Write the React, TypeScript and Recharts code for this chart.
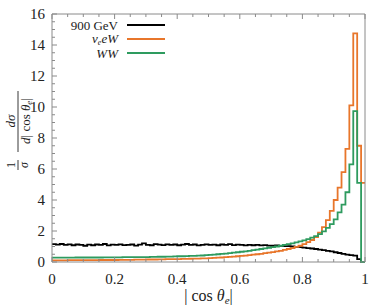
import React from "react";
import { LineChart, Line, XAxis, YAxis, Legend } from "recharts";

// histogram, 80 bins on [0, 1]
const binCount = 80;

const blackVals = [
  1.15, 1.12, 1.16, 1.1, 1.14, 1.08, 1.13, 1.1, 1.05, 1.12,
  1.08, 1.13, 1.1, 1.16, 1.07, 1.12, 1.1, 1.14, 1.09, 1.11,
  1.13, 1.06, 1.12, 1.2, 1.1, 1.08, 1.15, 1.12, 1.09, 1.14,
  1.1, 1.13, 1.08, 1.12, 1.16, 1.1, 1.13, 1.07, 1.11, 1.14,
  1.1, 1.12, 1.08, 1.13, 1.1, 1.15, 1.09, 1.12, 1.1, 1.07,
  1.1, 1.08, 1.1, 1.07, 1.09, 1.06, 1.05, 1.07, 1.04, 1.03,
  1.02, 1.0, 0.98, 0.96, 0.93, 0.9, 0.87, 0.84, 0.8, 0.76,
  0.72, 0.68, 0.63, 0.58, 0.52, 0.47, 0.44, 0.41, 0.18, 0,
];

const orangeVals = [
  0.11, 0.11, 0.11, 0.11, 0.12, 0.12, 0.12, 0.12, 0.12, 0.12,
  0.12, 0.12, 0.13, 0.13, 0.13, 0.13, 0.13, 0.14, 0.14, 0.14,
  0.14, 0.15, 0.15, 0.15, 0.16, 0.16, 0.16, 0.17, 0.17, 0.18,
  0.18, 0.19, 0.19, 0.2, 0.2, 0.21, 0.22, 0.22, 0.23, 0.24,
  0.25, 0.26, 0.28, 0.29, 0.31, 0.33, 0.35, 0.37, 0.39, 0.41,
  0.44, 0.47, 0.5, 0.53, 0.57, 0.6, 0.64, 0.68, 0.72, 0.78,
  0.84, 0.9, 0.97, 1.05, 1.15, 1.28, 1.42, 1.6, 1.9, 2.25,
  2.7, 3.3, 4.0, 4.8, 5.8, 7.3, 10.1, 14.75, 7.5, 5.1,
];

const greenVals = [
  0.28, 0.28, 0.28, 0.28, 0.28, 0.28, 0.29, 0.29, 0.29, 0.29,
  0.29, 0.29, 0.29, 0.3, 0.3, 0.3, 0.3, 0.3, 0.31, 0.31,
  0.31, 0.31, 0.32, 0.32, 0.32, 0.33, 0.33, 0.34, 0.34, 0.35,
  0.35, 0.36, 0.37, 0.37, 0.38, 0.39, 0.4, 0.41, 0.42, 0.44,
  0.46, 0.48, 0.5, 0.52, 0.54, 0.57, 0.6, 0.63, 0.66, 0.69,
  0.72, 0.76, 0.8, 0.84, 0.88, 0.92, 0.96, 1.0, 1.05, 1.1,
  1.15, 1.2, 1.26, 1.33, 1.4, 1.48, 1.57, 1.67, 1.8, 1.97,
  2.2, 2.45, 2.75, 3.2, 3.7, 4.5, 6.3, 9.74, 5.1, 0,
];

const xMajor = [0, 0.2, 0.4, 0.6, 0.8, 1];
const xTicks = [
  0, 0.05, 0.1, 0.15, 0.2, 0.25, 0.3, 0.35, 0.4, 0.45, 0.5,
  0.55, 0.6, 0.65, 0.7, 0.75, 0.8, 0.85, 0.9, 0.95, 1,
];
const yMajor = [0, 2, 4, 6, 8, 10, 12, 14, 16];
const yTicks = [
  0, 0.5, 1, 1.5, 2, 2.5, 3, 3.5, 4, 4.5, 5, 5.5, 6, 6.5, 7, 7.5, 8,
  8.5, 9, 9.5, 10, 10.5, 11, 11.5, 12, 12.5, 13, 13.5, 14, 14.5, 15, 15.5, 16,
];

const COLORS = { black: "#000000", orange: "#e8762b", green: "#2e9b5f" };
const FRAME = "#8a8a8a";
const FONT = "'Liberation Serif', 'DejaVu Serif', serif";

const data = blackVals.map((_, i) => ({
  x: i / binCount,
  black: blackVals[i],
  orange: orangeVals[i],
  green: greenVals[i],
}));
// closing edge of last bin
data.push({
  x: 1,
  black: blackVals[binCount - 1],
  orange: orangeVals[binCount - 1],
  green: greenVals[binCount - 1],
});

const isMajor = (list: number[], v: number) => list.some((m) => Math.abs(m - v) < 1e-9);

const BottomTick = (props: any) => {
  const { x, y, payload } = props;
  const major = isMajor(xMajor, payload.value);
  return (
    <g>
      <line x1={x} x2={x} y1={y} y2={y - (major ? 5 : 3)} stroke={FRAME} />
      {major && (
        <text x={x} y={y + 22} textAnchor="middle" fontFamily={FONT} fontSize={15} fill="#222">
          {String(payload.value)}
        </text>
      )}
    </g>
  );
};

const TopTick = (props: any) => {
  const { x, y, payload } = props;
  const major = isMajor(xMajor, payload.value);
  return <line x1={x} x2={x} y1={y} y2={y + (major ? 5 : 3)} stroke={FRAME} />;
};

const LeftTick = (props: any) => {
  const { x, y, payload } = props;
  const major = isMajor(yMajor, payload.value);
  return (
    <g>
      <line x1={x} x2={x + (major ? 5 : 3)} y1={y} y2={y} stroke={FRAME} />
      {major && (
        <text x={x - 7} y={y + 5} textAnchor="end" fontFamily={FONT} fontSize={15} fill="#222">
          {String(payload.value)}
        </text>
      )}
    </g>
  );
};

const RightTick = (props: any) => {
  const { x, y, payload } = props;
  const major = isMajor(yMajor, payload.value);
  return <line x1={x} x2={x - (major ? 5 : 3)} y1={y} y2={y} stroke={FRAME} />;
};

const XLabel = (props: any) => {
  const { viewBox } = props;
  const cx = viewBox.x + viewBox.width / 2;
  return (
    <text x={cx} y={viewBox.y + 39} textAnchor="middle" fontFamily={FONT} fontSize={16} fill="#222">
      <tspan>| cos </tspan>
      <tspan fontStyle="italic">θ</tspan>
      <tspan fontSize={11} fontStyle="italic" dy={3}>e</tspan>
      <tspan dy={-3}>|</tspan>
    </text>
  );
};

const YLabel = (props: any) => {
  const { viewBox } = props;
  const cx = 18;
  const cy = viewBox.y + viewBox.height / 2;
  return (
    <g transform={`translate(${cx},${cy}) rotate(-90)`} fontFamily={FONT} fill="#222">
      {/* 1 / sigma */}
      <text x={-27} y={-3} textAnchor="middle" fontSize={12}>1</text>
      <line x1={-32} x2={-22} y1={0} y2={0} stroke="#222" strokeWidth={0.9} />
      <text x={-27} y={10} textAnchor="middle" fontSize={12} fontStyle="italic">σ</text>
      {/* d sigma / d|cos theta_e| */}
      <text x={17} y={-3} textAnchor="middle" fontSize={13} fontStyle="italic">dσ</text>
      <line x1={-14} x2={47} y1={0} y2={0} stroke="#222" strokeWidth={0.9} />
      <text x={17} y={12} textAnchor="middle" fontSize={13}>
        <tspan fontStyle="italic">d</tspan>
        <tspan>| cos </tspan>
        <tspan fontStyle="italic">θ</tspan>
        <tspan fontSize={9} fontStyle="italic" dy={2}>e</tspan>
        <tspan dy={-2}>|</tspan>
      </text>
    </g>
  );
};

const legendRows = [
  { key: "black", label: <span>900 GeV</span> },
  {
    key: "orange",
    label: (
      <span style={{ fontStyle: "italic" }}>
        ν<span style={{ fontSize: 8, position: "relative", top: 2 }}>e</span>eW
      </span>
    ),
  },
  { key: "green", label: <span style={{ fontStyle: "italic" }}>WW</span> },
];

const LegendBox = () => (
  <div style={{ fontFamily: FONT, fontSize: 13, color: "#222" }}>
    {legendRows.map((r) => (
      <div key={r.key} style={{ display: "flex", alignItems: "center", height: 14 }}>
        <div style={{ width: 66, textAlign: "right", lineHeight: "11px", whiteSpace: "nowrap" }}>{r.label}</div>
        <svg width={48} height={14} style={{ display: "block" }}>
          <line x1={9} x2={47} y1={7} y2={7} stroke={(COLORS as any)[r.key]} strokeWidth={2} />
        </svg>
      </div>
    ))}
  </div>
);

export default function App() {
  return (
    <div style={{ position: "absolute", left: 0, top: 0, width: 390, height: 307, background: "#fff" }}>
      <LineChart
        width={390}
        height={307}
        data={data}
        margin={{ top: 13, right: 24, bottom: 15, left: 12 }}
      >
        <XAxis
          dataKey="x"
          type="number"
          domain={[0, 1]}
          ticks={xTicks}
          interval={0}
          height={30}
          tickSize={0}
          tickMargin={0}
          tickLine={false}
          axisLine={{ stroke: FRAME }}
          tick={<BottomTick />}
          label={<XLabel />}
        />
        <XAxis
          xAxisId="top"
          orientation="top"
          dataKey="x"
          type="number"
          domain={[0, 1]}
          ticks={xTicks}
          interval={0}
          height={1}
          tickSize={0}
          tickMargin={0}
          tickLine={false}
          axisLine={{ stroke: FRAME }}
          tick={<TopTick />}
        />
        <YAxis
          type="number"
          domain={[0, 16]}
          ticks={yTicks}
          interval={0}
          width={40}
          tickSize={0}
          tickMargin={0}
          tickLine={false}
          axisLine={{ stroke: FRAME }}
          tick={<LeftTick />}
          label={<YLabel />}
        />
        <YAxis
          yAxisId="right"
          orientation="right"
          type="number"
          domain={[0, 16]}
          ticks={yTicks}
          interval={0}
          width={1}
          tickSize={0}
          tickMargin={0}
          tickLine={false}
          axisLine={{ stroke: FRAME }}
          tick={<RightTick />}
        />
        <Legend
          layout="horizontal"
          verticalAlign="middle"
          align="center"
          wrapperStyle={{ top: 18, left: 52, width: "auto", height: "auto" }}
          content={() => <LegendBox />}
        />
        <Line dataKey="black" type="stepAfter" stroke={COLORS.black} strokeWidth={1.8} dot={false} isAnimationActive={false} />
        <Line dataKey="orange" type="stepAfter" stroke={COLORS.orange} strokeWidth={1.8} dot={false} isAnimationActive={false} />
        <Line dataKey="green" type="stepAfter" stroke={COLORS.green} strokeWidth={1.8} dot={false} isAnimationActive={false} />
      </LineChart>
    </div>
  );
}
